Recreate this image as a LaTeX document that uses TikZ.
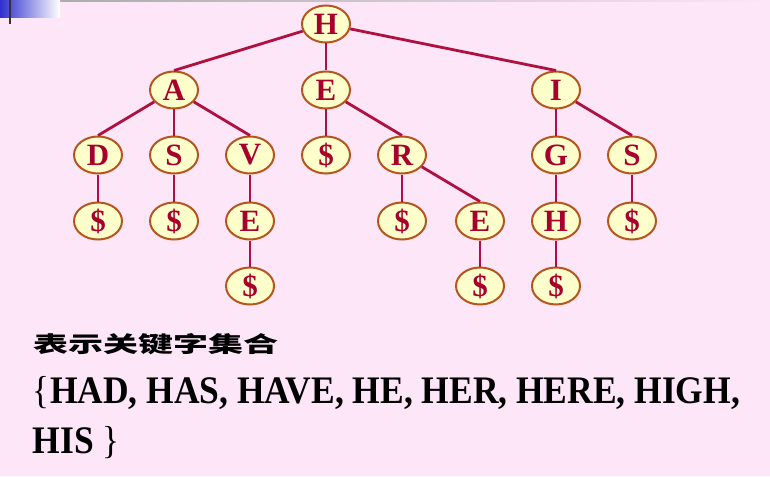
\documentclass[tikz,border=0pt]{standalone}
\usepackage{fontspec}
\setmainfont{Liberation Serif}
\newfontfamily\cjk{Noto Sans CJK SC}
\usepackage{graphicx}
\usetikzlibrary{shapes.geometric}
\definecolor{bg}{HTML}{FDE6F7}
\definecolor{nodefill}{HTML}{FFFFCC}
\definecolor{nodeline}{HTML}{B4561E}
\definecolor{edgecol}{HTML}{B01040}
\definecolor{letter}{HTML}{A8002C}
\definecolor{barblue}{HTML}{2F2FCF}
\newsavebox\lineAbox
\begin{document}
\sbox\lineAbox{\fontsize{39}{39}\selectfont\{\textbf{HAD, HAS, HAVE, HE, HER, HERE, HIGH,}}%
\pgfmathsetmacro\fac{707/\wd\lineAbox}%
\begin{tikzpicture}[x=1pt,y=-1pt,
  tn/.style={ellipse, draw=nodeline, line width=2pt, fill=nodefill,
    minimum width=48pt, minimum height=37pt, inner sep=0pt,
    font=\fontsize{31}{31}\selectfont\bfseries, text=letter},
  ed/.style={draw=edgecol, line width=2.8pt},
  txt/.style={anchor=base west, inner sep=0pt, outer sep=0pt}]
\fill[bg] (0,0) rectangle (770,476);
\useasboundingbox (0,0) rectangle (770,476);
\shade[left color=gray!70, right color=bg] (0,0) rectangle (770,1.2);
\shade[left color=barblue, right color=white] (0,0) rectangle (60,18);
\draw[line width=2pt, black!80] (9.5,0) -- (9.5,24);
% tree nodes
\node[tn] (H) at (326,24) {H};
\node[tn] (A) at (174,90) {A};
\node[tn] (E) at (326,90) {E};
\node[tn] (I) at (556,90) {I};
\node[tn] (D) at (98,155) {D};
\node[tn] (AS) at (174,155) {S};
\node[tn] (V) at (250,155) {V};
\node[tn] (Ed) at (326,155) {\$};
\node[tn] (R) at (402,155) {R};
\node[tn] (G) at (556,155) {G};
\node[tn] (IS) at (632,155) {S};
\node[tn] (Dd) at (98,221) {\$};
\node[tn] (ASd) at (174,221) {\$};
\node[tn] (VE) at (250,221) {E};
\node[tn] (Rd) at (402,221) {\$};
\node[tn] (RE) at (480,221) {E};
\node[tn] (GH) at (556,221) {H};
\node[tn] (ISd) at (632,221) {\$};
\node[tn] (VEd) at (250,286) {\$};
\node[tn] (REd) at (480,286) {\$};
\node[tn] (GHd) at (556,286) {\$};
% edges
\draw[ed] (H) -- (A.north);
\draw[ed] (H) -- (E.north);
\draw[ed] (H) -- (I.north);
\draw[ed] (A) -- (D.north);
\draw[ed] (A) -- (AS.north);
\draw[ed] (A) -- (V.north);
\draw[ed] (E) -- (Ed.north);
\draw[ed] (E) -- (R.north);
\draw[ed] (I) -- (G.north);
\draw[ed] (I) -- (IS.north);
\draw[ed] (D) -- (Dd.north);
\draw[ed] (AS) -- (ASd.north);
\draw[ed] (V) -- (VE.north);
\draw[ed] (R) -- (Rd.north);
\draw[ed] (R) -- (RE.north);
\draw[ed] (G) -- (GH.north);
\draw[ed] (IS) -- (ISd.north);
\draw[ed] (VE) -- (VEd.north);
\draw[ed] (RE) -- (REd.north);
\draw[ed] (GH) -- (GHd.north);
% text
\node[txt] (title) at (33,352) {\resizebox{245pt}{\height}{\cjk\bfseries\fontsize{22}{22}\selectfont 表示关键字集合}};
\node[txt] (setA) at (33,403) {\scalebox{\fac}[1]{\usebox\lineAbox}};
\node[txt] (setB) at (33,453) {\scalebox{\fac}[1]{\fontsize{39}{39}\selectfont\textbf{HIS} \}}};
\end{tikzpicture}
\end{document}
